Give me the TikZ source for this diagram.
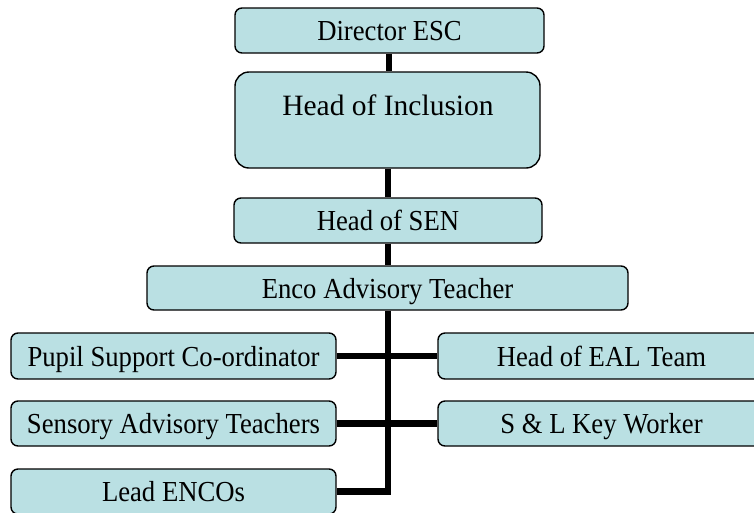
\documentclass[tikz,border=0pt]{standalone}
\usepackage{fontspec}
\setmainfont{Liberation Serif}
\newfontfamily\boxfont{Liberation Serif}[FakeStretch=0.92]
\definecolor{boxfill}{RGB}{186,224,227}
\begin{document}
\begin{tikzpicture}[x=1pt,y=-1pt,
  orgbox/.style={draw=black, line width=1.4pt, fill=boxfill, rounded corners=7pt,
    inner sep=0pt, text height=24pt, text depth=4pt,
    font=\boxfont\fontsize{29}{34}\selectfont},
  link/.style={line width=6.5pt, draw=black, line join=miter}]
\useasboundingbox (0,0) rectangle (754,512);
\clip (0,0) rectangle (754,512);
% boxes
\node[orgbox, minimum width=309pt, minimum height=45pt] (dir) at (389.5,30.5) {Director ESC};
\node[orgbox, rounded corners=14pt, minimum width=305pt, minimum height=96pt] (inc) at (387.5,120) {};
\node[inner sep=0pt, anchor=base, font=\fontsize{29.5}{34}\selectfont] (inctext) at (388,115) {Head of Inclusion};
\node[orgbox, minimum width=308pt, minimum height=45pt] (sen) at (388,220.5) {Head of SEN};
\node[orgbox, minimum width=481pt, minimum height=44pt] (enco) at (387.5,288) {Enco Advisory Teacher};
\node[orgbox, minimum width=325pt, minimum height=46pt] (pupil) at (173.5,356) {Pupil Support Co-ordinator};
\node[orgbox, minimum width=327pt, minimum height=46pt] (eal) at (601.5,356) {Head of EAL Team};
\node[orgbox, minimum width=325pt, minimum height=45pt] (sens) at (173.5,423.5) {Sensory Advisory Teachers};
\node[orgbox, minimum width=327pt, minimum height=45pt] (sl) at (601.5,423.5) {S \& L Key Worker};
\node[orgbox, minimum width=325pt, minimum height=45pt] (lead) at (173.5,491.5) {Lead ENCOs};
% connectors
\coordinate (trunk) at (388,310);
\draw[link, line width=6pt] (dir.south -| 389,0) -- (inc.north -| 389,0);
\draw[link] (inc.south -| trunk) -- (sen.north -| trunk);
\draw[link] (sen.south -| trunk) -- (enco.north -| trunk);
\draw[link] (enco.south -| trunk) |- (lead.east);
\draw[link] (pupil.east) -- (eal.west);
\draw[link] (sens.east) -- (sl.west);
\end{tikzpicture}
\end{document}
